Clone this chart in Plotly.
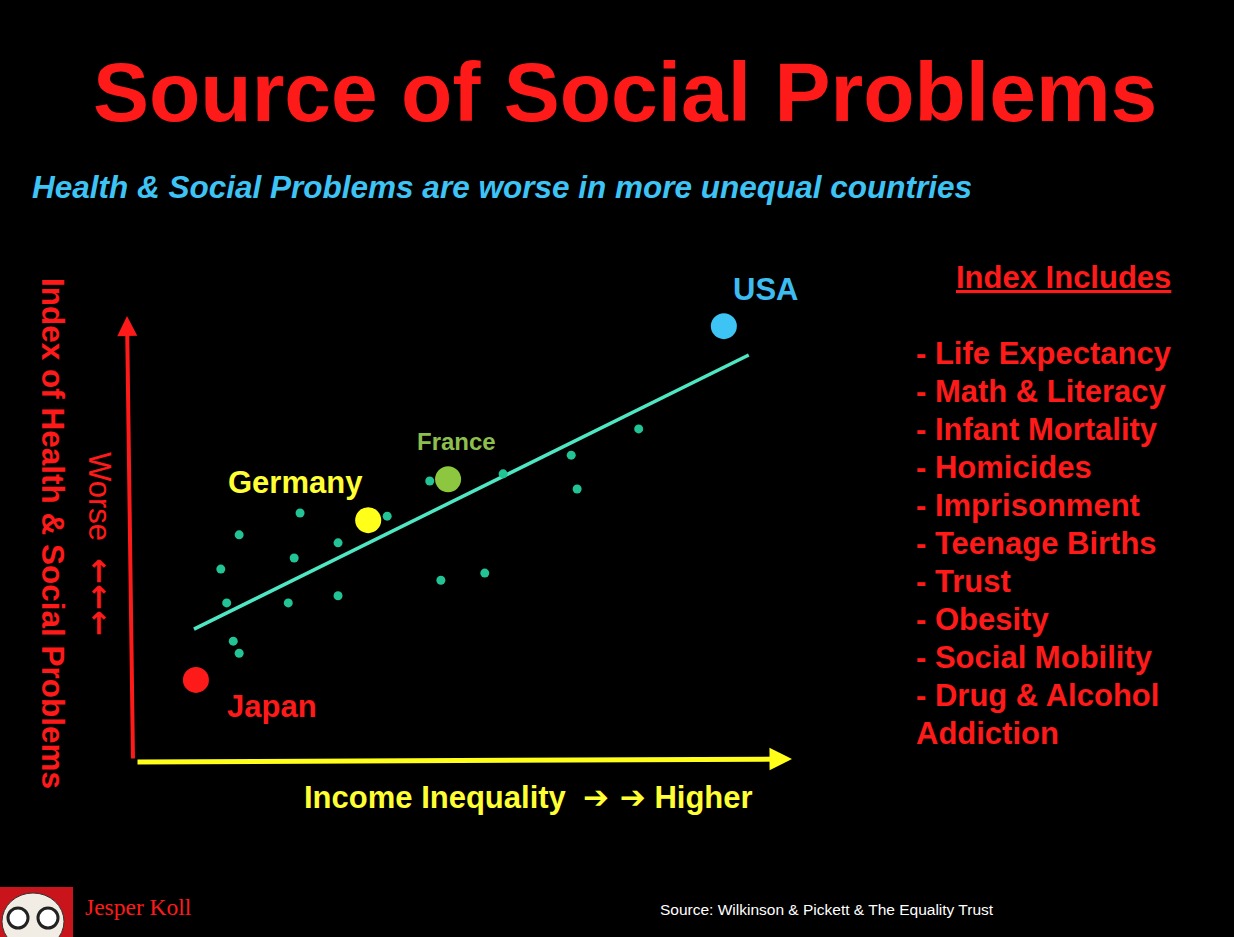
import plotly.graph_objects as go

# Datos (escala 0-100 en ambos ejes)
paises = ['Japan', 'Germany', 'France', 'USA']
paises_x = [9.3, 35.6, 47.8, 89.9]
paises_y = [18.0, 53.9, 63.1, 97.5]
paises_color = ['#ff1a1a', '#ffff1a', '#8dc63f', '#3ec3f5']

otros_x = [15.9, 13.1, 14.0, 15.0, 15.9, 25.2, 24.3, 23.4, 31.0, 31.0,
           38.5, 45.0, 56.2, 46.7, 53.4, 66.6, 67.5, 76.9]
otros_y = [50.6, 42.9, 35.3, 26.7, 24.0, 55.5, 45.4, 35.3, 48.8, 36.9,
           54.8, 62.7, 64.3, 40.4, 42.0, 68.5, 60.9, 74.4]

tendencia_x = [9.0, 93.7]
tendencia_y = [29.4, 91.0]

indice = ['- Life Expectancy', '- Math & Literacy', '- Infant Mortality',
          '- Homicides', '- Imprisonment', '- Teenage Births', '- Trust',
          '- Obesity', '- Social Mobility', '- Drug & Alcohol', 'Addiction']

ROJO = '#ff1a1a'
FUENTE = 'Liberation Sans, Arial, sans-serif'
FLECHA = '<span style="font-family:DejaVu Sans">%s</span>'

# margenes en pixeles del area del grafico
L, R, T, B = 135, 444, 315, 177
W, H = 1234, 937


def px(x):
    return (x - L) / (W - L - R)


def py(y):
    return (H - B - y) / (H - T - B)


fig = go.Figure()

fig.add_trace(go.Scatter(
    x=tendencia_x, y=tendencia_y, mode='lines',
    line=dict(color='#4fe6c3', width=3.5), hoverinfo='skip'
))
fig.add_trace(go.Scatter(
    x=otros_x, y=otros_y, mode='markers',
    marker=dict(color='#22c394', size=9), hoverinfo='skip'
))
fig.add_trace(go.Scatter(
    x=paises_x, y=paises_y, mode='markers', text=paises, cliponaxis=False,
    marker=dict(color=paises_color, size=26), hoverinfo='text'
))


def texto(t, x, y, size=30, color=ROJO, xanchor='center', angle=0, family=FUENTE):
    fig.add_annotation(
        text=t, xref='paper', yref='paper', x=px(x), y=py(y),
        xanchor=xanchor, yanchor='middle', showarrow=False, textangle=angle,
        font=dict(family=family, size=size, color=color)
    )


# titulos
texto('<b>Source of Social Problems</b>', 625, 92, size=84)
texto('<b><i>Health & Social Problems are worse in more unequal countries</i></b>',
      30, 187, size=31.5, color='#3ec3f5', xanchor='left')

# etiquetas de ejes
texto('<b>Index of Health & Social Problems</b>', 53, 533, size=31.5, angle=90)
texto('Worse  ' + FLECHA % '<b>←←←</b>', 100, 544, size=31, angle=90)
texto('<b>Income Inequality  ' + FLECHA % '➔ ➔' + ' Higher</b>', 528, 797,
      size=31, color='#ffff33')

# etiquetas de paises
texto('<b>USA</b>', 765, 289, size=31, color='#3cbcf0')
texto('<b>France</b>', 456, 441, size=24, color='#8dbf4d')
texto('<b>Germany</b>', 295, 482, size=31, color='#ffff33')
texto('<b>Japan</b>', 272, 706, size=31, color=ROJO)

# lista de la derecha
texto('<b><u>Index Includes</u></b>', 1063, 277, size=31)
for i, item in enumerate(indice):
    texto('<b>' + item + '</b>', 914, 353 + 38 * i, size=31, xanchor='left')

# pie
texto('Source: Wilkinson & Pickett & The Equality Trust', 827, 909, size=15.5, color='white')
texto('Jesper Koll', 83, 907, size=23.5, xanchor='left',
      family='Liberation Serif, Times New Roman, serif')

# flechas de los ejes
fig.add_annotation(xref='paper', yref='paper', x=px(127), y=py(316),
                   ax=6, ay=444, showarrow=True, arrowhead=2, arrowsize=1,
                   arrowwidth=4, arrowcolor=ROJO, text='')
fig.add_annotation(xref='paper', yref='paper', x=px(792), y=py(759),
                   ax=-656, ay=3, showarrow=True, arrowhead=2, arrowsize=0.9,
                   arrowwidth=5, arrowcolor='#ffff1a', text='')

# logo (daruma simplificado)
fig.add_shape(type='rect', xref='paper', yref='paper',
              x0=px(0), x1=px(73), y0=py(937), y1=py(887),
              fillcolor='#c8141a', line_width=0, layer='above')
fig.add_shape(type='circle', xref='paper', yref='paper',
              x0=px(2), x1=px(64), y0=py(950), y1=py(893),
              fillcolor='#f2ede4', line=dict(color='#333333', width=1))
for cx in [18, 48]:
    fig.add_shape(type='circle', xref='paper', yref='paper',
                  x0=px(cx - 10), x1=px(cx + 10), y0=py(928), y1=py(908),
                  fillcolor='white', line=dict(color='#222222', width=3))

fig.update_xaxes(range=[0, 100], visible=False, fixedrange=True)
fig.update_yaxes(range=[0, 100], visible=False, fixedrange=True)
fig.update_layout(
    width=W, height=H, showlegend=False,
    margin=dict(l=L, r=R, t=T, b=B),
    paper_bgcolor='black', plot_bgcolor='black',
    font=dict(family=FUENTE)
)

fig.write_html('out.html', config={'displayModeBar': False},
               post_script="document.body.style.margin='0';")
